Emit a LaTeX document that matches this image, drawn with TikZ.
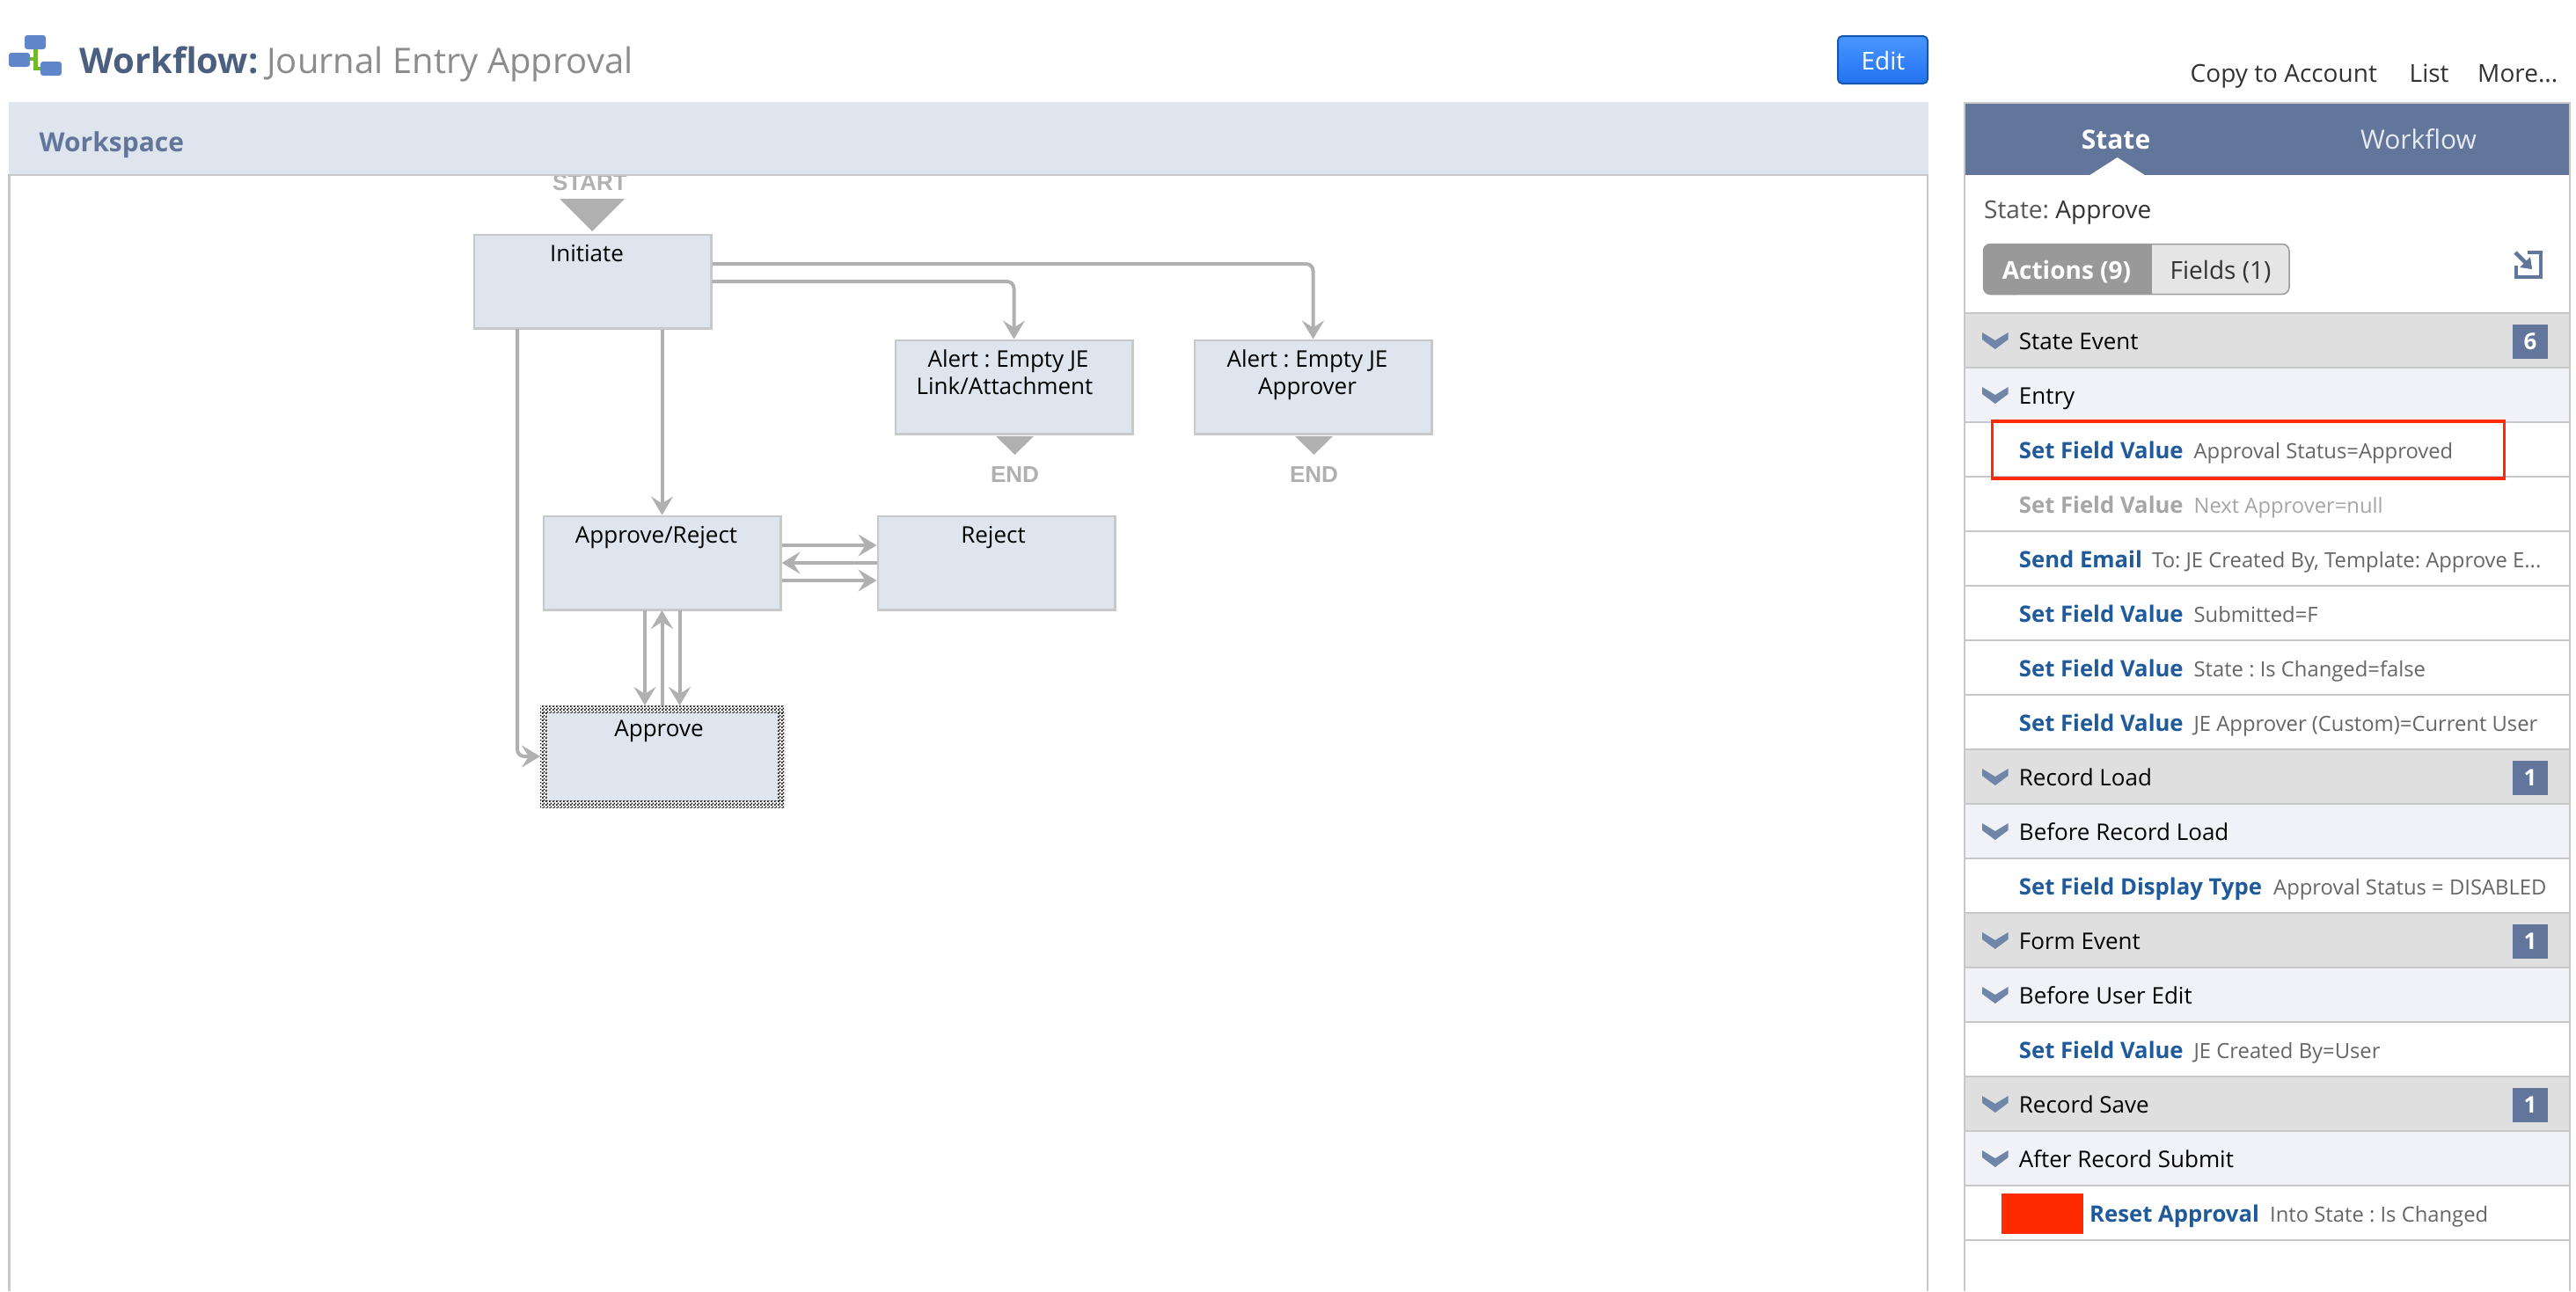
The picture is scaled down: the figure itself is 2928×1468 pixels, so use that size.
\documentclass[tikz,border=0pt]{standalone}
\usepackage{fontspec}
\setmainfont{Open Sans}
\usetikzlibrary{arrows.meta,patterns}
\definecolor{hdr}{HTML}{DFE5EE}
\definecolor{bline}{HTML}{C8C8C8}
\definecolor{conn}{HTML}{B0B0B0}
\definecolor{steel}{HTML}{61769A}
\definecolor{rowdark}{HTML}{DFDFDF}
\definecolor{rowlight}{HTML}{F0F2F7}
\definecolor{linkblue}{HTML}{1F5A9A}
\definecolor{valgray}{HTML}{666666}
\definecolor{alertred}{HTML}{FF2A00}
\definecolor{iconblue}{HTML}{5F86C8}
\definecolor{icongreen}{HTML}{72B82A}
\definecolor{chevron}{HTML}{6F86A8}
\definecolor{titleblue}{HTML}{4B5F80}
\definecolor{edittop}{HTML}{4A96FF}
\definecolor{editbot}{HTML}{2272F0}
\definecolor{editline}{HTML}{1558B0}
\newcommand{\px}[1]{\fontsize{#1}{#1}\selectfont}
\pgfdeclarepatternformonly{finechk}{\pgfpointorigin}{\pgfpoint{4pt}{4pt}}{\pgfpoint{4pt}{4pt}}{%
  \pgfpathrectangle{\pgfpointorigin}{\pgfpoint{2pt}{2pt}}%
  \pgfpathrectangle{\pgfpoint{2pt}{2pt}}{\pgfpoint{2pt}{2pt}}%
  \pgfusepath{fill}}
\tikzset{
  x=1pt,y=-1pt,
  statebox/.style={draw=bline,fill=hdr,line width=2.5pt,anchor=north west,inner sep=0pt,minimum width=269.5pt,minimum height=106.5pt},
  boxlabel/.style={anchor=base,inner sep=0pt,align=center,text=black,font=\px{26}},
  flow/.style={draw=conn,line width=4pt,rounded corners=8pt,-{Stealth[length=21pt,width=25pt,inset=8pt]}},
  tri/.style={fill=conn},
  endlabel/.style={anchor=base,inner sep=0pt,text=conn,font=\fontspec{Liberation Sans Bold}\px{26}},
  rowrule/.style={draw=bline,line width=2.4pt},
  rowtxt/.style={anchor=base west,inner sep=0pt,text=black,font=\px{26}},
  act/.style={anchor=base west,inner sep=0pt,text=linkblue,font=\px{25.7}\bfseries},
  val/.style={anchor=base west,inner sep=0pt,text=valgray,font=\px{23.8}},
  badge/.style={fill=steel,anchor=center,inner sep=0pt,minimum width=40pt,minimum height=39pt,text=white,font=\px{26}\bfseries},
  chev/.style={fill=chevron},
  toplink/.style={anchor=base west,inner sep=0pt,text=black!80,font=\px{28}},
  chk/.style={pattern=finechk,pattern color=black,draw=none},
  icobox/.style={fill=iconblue,rounded corners=3pt},
  icoline/.style={draw=icongreen,line width=4.4pt},
}
\begin{document}
\frenchspacing
\begin{tikzpicture}
\useasboundingbox (0,0) rectangle (2928,1468);
\fill[white] (0,0) rectangle (2928,1468);
% ---- title icon
\draw[icoline] (40.5,56) -- (40.5,78) -- (48,78);
\draw[icoline] (33,67) -- (40.5,67);
\fill[icobox] (28,40) rectangle (52,56);
\fill[icobox] (10,60) rectangle (34,76);
\fill[icobox] (46,70) rectangle (70,86);
\node[anchor=base west,inner sep=0pt,text=titleblue,font=\px{40}\bfseries] (ttl) at (90.5,83) {Workflow:};
\node[anchor=base west,inner sep=0pt,text=black!45,font=\px{40}] (ttl2) at (303,83) {Journal Entry Approval};
% ---- Edit button
\draw[draw=editline,top color=edittop,bottom color=editbot,rounded corners=5pt,line width=2pt] (2089,41) rectangle (2191,95);
\node[anchor=base,inner sep=0pt,text=white,font=\px{28}] (edit) at (2140.5,79) {Edit};
% ---- workspace
\fill[hdr] (10,116) rectangle (2192,199);
\draw[bline,line width=2.5pt] (10.5,1468) -- (10.5,199) -- (2191,199) -- (2191,1468);
\node[anchor=base west,inner sep=0pt,text=steel,font=\px{30}\bfseries] (ws) at (44.5,172) {Workspace};
% ---- START
\begin{scope}
\clip (400,200) rectangle (900,230);
\node[endlabel] (startl) at (670.5,216) {START};
\end{scope}
\fill[tri] (636,226) -- (710,226) -- (673,263) -- cycle;
% ---- boxes
\node[statebox] (init) at (537.5,265.5) {};
\node[statebox] (al1) at (1016.5,385.5) {};
\node[statebox] (al2) at (1356.5,385.5) {};
\node[statebox] (ar) at (616.5,585.5) {};
\node[statebox] (rej) at (996.5,585.5) {};
\fill[white] (614,802) rectangle (892,918);
\node[statebox,draw=none,minimum width=262pt,minimum height=100pt] (app) at (622,810) {};
\fill[chk] (614,802) rectangle (892,810);
\fill[chk] (614,910) rectangle (892,918);
\fill[chk] (614,810) rectangle (622,910);
\fill[chk] (884,810) rectangle (892,910);
\node[boxlabel] at (667,297) {Initiate};
\node[boxlabel] at (1146,417) {Alert : Empty JE};
\node[boxlabel] at (1142,448) {Link/Attachment};
\node[boxlabel] at (1486,417) {Alert : Empty JE};
\node[boxlabel] at (1486,448) {Approver};
\node[boxlabel] at (746,617) {Approve/Reject};
\node[boxlabel] at (1129,617) {Reject};
\node[boxlabel] at (749,837) {Approve};
% ---- END marks
\fill[tri] (1132,496) -- (1175,496) -- (1153.5,517) -- cycle;
\fill[tri] (1472,496) -- (1515,496) -- (1493.5,517) -- cycle;
\node[endlabel] (end1) at (1153.5,548) {END};
\node[endlabel] (end2) at (1493.5,548) {END};
% ---- connectors
\coordinate (i1) at (init.north east |- 0,300);
\coordinate (i2) at (init.north east |- 0,320);
\draw[flow] (i1) -| (al2.north);
\draw[flow] (i2) -| (al1.north);
\coordinate (i3) at (588,374);
\coordinate (ap1) at (614,860);
\draw[flow] (i3) |- (ap1);
\draw[flow] (init.south -| ar.north) -- (ar.north);
\draw[flow] (ar.east |- 0,620) -- (rej.west |- 0,620);
\draw[flow] (rej.west |- 0,640) -- (ar.east |- 0,640);
\draw[flow] (ar.east |- 0,660) -- (rej.west |- 0,660);
\draw[flow] (733,694) -- (733,802);
\draw[flow] (752.5,802) -- (752.5,694);
\draw[flow] (772.5,694) -- (772.5,802);
% ---- top links
\node[toplink] (copy) at (2489.5,93) {Copy to Account};
\node[toplink] (list) at (2738.5,93) {List};
\node[toplink] (more) at (2816,93) {More...};
% ---- panel
\fill[steel] (2233,117) rectangle (2921,199);
\fill[white] (2375.5,199) -- (2406.6,179) -- (2437.7,199) -- cycle;
\node[anchor=base,inner sep=0pt,text=white,font=\px{30}\bfseries] (st) at (2405,169) {State};
\node[anchor=base,inner sep=0pt,text=white!85!steel,font=\px{30}] (wf) at (2749,169) {Workflow};
\draw[bline,line width=2.4pt] (2233,1468) -- (2233,117) -- (2921,117) -- (2921,1468);
\node[anchor=base west,inner sep=0pt,font=\px{28}] (stt) at (2255,248) {\textcolor{black!65}{State:} \textcolor{black!80}{Approve}};
% buttons
\draw[draw=black!40,fill=black!10,rounded corners=8pt,line width=1.5pt] (2254.5,277.5) rectangle (2602,334.5);
\fill[black!40,rounded corners=8pt] (2254,277) rectangle (2300,335);
\fill[black!40] (2270,277) rectangle (2446,335);
\node[anchor=base,inner sep=0pt,text=white,font=\px{28}\bfseries] (acts) at (2349,317) {Actions (9)};
\node[anchor=base,inner sep=0pt,text=black!80,font=\px{28}] (flds) at (2524,317) {Fields (1)};
% export icon
\draw[steel,line width=3.6pt] (2873,287) -- (2888,287) -- (2888,315) -- (2860,315) -- (2860,302);
\draw[steel,line width=4.4pt] (2859,287) -- (2876,304);
\fill[steel] (2864,304) -- (2878,306) -- (2876,292) -- cycle;
% ---- rows
\foreach \t/\c in {356/rowdark,418/rowlight,480/white,542/white,604/white,666/white,728/white,790/white,852/rowdark,914/rowlight,976/white,1038/rowdark,1100/rowlight,1162/white,1224/rowdark,1286/rowlight,1348/white}{
  \fill[\c] (2234,\t) rectangle (2920,\t+62);
}
\foreach \t in {356,418,480,542,604,666,728,790,852,914,976,1038,1100,1162,1224,1286,1348,1410}{
  \draw[rowrule] (2234,\t) -- (2920,\t);
}
\foreach \t in {356,418,852,914,1038,1100,1224,1286}{
  \fill[chev] (2253,\t+22) -- (2267.8,\t+31) -- (2282.6,\t+22) -- (2282.6,\t+30) -- (2267.8,\t+41) -- (2253,\t+30) -- cycle;
}
\node[rowtxt] (r1) at (2294.7,397) {State Event};
\node[rowtxt] (r2) at (2294.7,459) {Entry};
\node[rowtxt] (r9) at (2294.7,893) {Record Load};
\node[rowtxt] (r10) at (2294.7,955) {Before Record Load};
\node[rowtxt] (r12) at (2294.7,1079) {Form Event};
\node[rowtxt] (r13) at (2294.7,1141) {Before User Edit};
\node[rowtxt] (r15) at (2294.7,1265) {Record Save};
\node[rowtxt] (r16) at (2294.7,1327) {After Record Submit};
\node[badge] (b1) at (2876,388) {6};
\node[badge] (b2) at (2876,884) {1};
\node[badge] (b3) at (2876,1070) {1};
\node[badge] (b4) at (2876,1256) {1};
\node[act] (a1) at (2294.7,521) {Set Field Value};
\node[val] (v1) at (2493.4,521) {Approval Status=Approved};
\node[act,text=black!35] (a2) at (2294.7,583) {Set Field Value};
\node[val,text=black!35] (v2) at (2493.4,583) {Next Approver=null};
\node[act] (a3) at (2294.7,645) {Send Email};
\node[val] (v3) at (2446,645) {To: JE Created By, Template: Approve E...};
\node[act] (a4) at (2294.7,707) {Set Field Value};
\node[val] (v4) at (2493.4,707) {Submitted=F};
\node[act] (a5) at (2294.7,769) {Set Field Value};
\node[val] (v5) at (2493.4,769) {State : Is Changed=false};
\node[act] (a6) at (2294.7,831) {Set Field Value};
\node[val] (v6) at (2493.4,831) {JE Approver (Custom)=Current User};
\node[act] (a7) at (2294.7,1017) {Set Field Display Type};
\node[val] (v7) at (2584,1017) {Approval Status = DISABLED};
\node[act] (a8) at (2294.7,1203) {Set Field Value};
\node[val] (v8) at (2493.4,1203) {JE Created By=User};
\node[act] (a9) at (2375,1389) {Reset Approval};
\node[val] (v9) at (2580,1389) {Into State : Is Changed};
\draw[alertred,line width=3.6pt] (2264.5,479) rectangle (2846.5,544);
\fill[alertred] (2275,1357) rectangle (2368,1402.5);
\end{tikzpicture}
\end{document}
